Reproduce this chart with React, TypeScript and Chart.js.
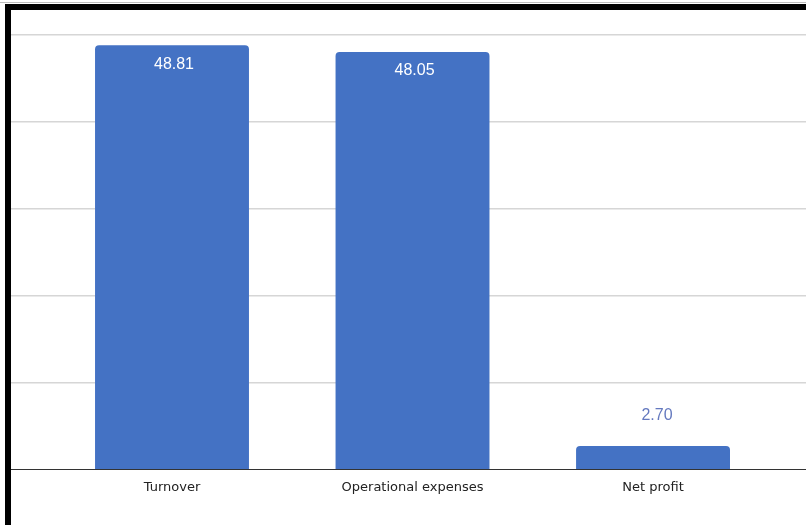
import React, { useEffect, useRef } from "react";
import { Chart, registerables } from "chart.js";

Chart.register(...registerables);

const categories = ["Turnover", "Operational expenses", "Net profit"];
const values = [48.81, 48.05, 2.7];
const valueLabels = ["48.81", "48.05", "2.70"];
const yTicks = [0, 10, 20, 30, 40, 50];

const BAR_COLOR = "#4472C4";

const labelPlugin = {
  id: "barValueLabels",
  afterDatasetsDraw(chart: any) {
    const meta = chart.getDatasetMeta(0);
    const ctx = chart.ctx;
    ctx.save();
    ctx.font = "16px 'Liberation Sans', Arial, sans-serif";
    ctx.textAlign = "center";
    ctx.textBaseline = "middle";
    meta.data.forEach((bar: any, i: number) => {
      const h = bar.base - bar.y;
      if (h > 40) {
        ctx.fillStyle = "#ffffff";
        ctx.fillText(valueLabels[i], bar.x + 2, bar.y + 19);
      } else {
        ctx.fillStyle = "#6479bf";
        ctx.fillText(valueLabels[i], bar.x + 4, bar.y - 30);
      }
    });
    ctx.restore();
  },
};

export default function App() {
  const ref = useRef<HTMLCanvasElement | null>(null);

  useEffect(() => {
    if (!ref.current) return;
    const chart = new Chart(ref.current, {
      type: "bar",
      data: {
        datasets: [
          {
            data: values.map((v, i) => ({ x: i, y: v })),
            backgroundColor: BAR_COLOR,
            borderRadius: { topLeft: 4, topRight: 4, bottomLeft: 0, bottomRight: 0 },
            borderSkipped: "bottom",
            categoryPercentage: 0.8,
            barPercentage: 0.8,
          },
        ],
      },
      options: {
        animation: false,
        responsive: true,
        maintainAspectRatio: false,
        layout: { padding: { left: 11, top: 35, right: 0, bottom: 20 } },
        plugins: { legend: { display: false }, tooltip: { enabled: false } },
        scales: {
          x: {
            type: "linear",
            offset: false,
            min: -0.6694,
            max: 2.636,
            grid: { display: false, drawTicks: false },
            border: { display: true, color: "#333333", width: 1 },
            ticks: {
              stepSize: 1,
              includeBounds: false,
              autoSkip: false,
              maxRotation: 0,
              padding: 10,
              color: "#222222",
              font: { family: "'DejaVu Sans', sans-serif", size: 13 },
              callback: (v: any) => (Number.isInteger(v) ? categories[v] ?? "" : ""),
            },
          },
          y: {
            min: yTicks[0],
            max: yTicks[yTicks.length - 1],
            afterBuildTicks: (s: any) => {
              s.ticks = yTicks.map((v) => ({ value: v }));
            },
            afterFit: (s: any) => {
              s.width = 0;
            },
            grid: {
              drawTicks: false,
              color: (c: any) => (c.tick && c.tick.value === 0 ? "#333333" : "#d6d6d6"),
              lineWidth: (c: any) => (c.tick && c.tick.value === 0 ? 1 : 1.5),
            },
            border: { display: false },
            ticks: { display: false },
          },
        },
      },
      plugins: [labelPlugin],
    });
    return () => chart.destroy();
  }, []);

  return (
    <div style={{ position: "fixed", left: 0, top: 0, width: 806, height: 525, background: "#ffffff" }}>
      <canvas ref={ref} />
      <div
        style={{
          position: "absolute",
          left: 0,
          top: 2,
          width: 806,
          height: 1,
          background: "#bdbdbd",
        }}
      />
      <div
        style={{
          position: "absolute",
          left: 5,
          top: 4,
          width: 801,
          height: 521,
          boxSizing: "border-box",
          borderTop: "6px solid #000",
          borderLeft: "6px solid #000",
          pointerEvents: "none",
        }}
      />
    </div>
  );
}
